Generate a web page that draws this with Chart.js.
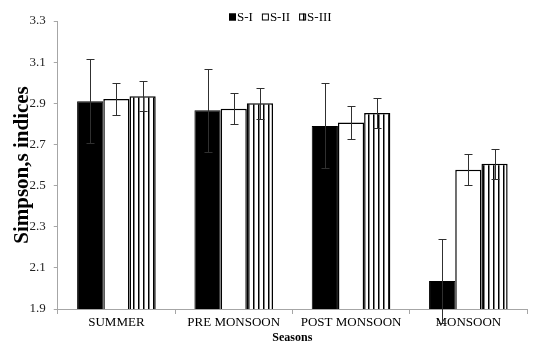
<!DOCTYPE html>
<html>
<head>
<meta charset="utf-8">
<script src="https://cdn.jsdelivr.net/npm/chart.js@4.4.1/dist/chart.umd.min.js"></script>
<style>
  html, body { margin: 0; padding: 0; background: #fff; }
  #wrap { width: 535px; height: 345px; }
</style>
</head>
<body>
<div id="wrap"><canvas id="chart"></canvas></div>
<script>
// data
const seasons = ['SUMMER', 'PRE MONSOON', 'POST MONSOON', 'MONSOON'];
const siteNames = ['S-I', 'S-II', 'S-III'];
const s1 = [2.91, 2.866, 2.79, 2.036];
const s2 = [2.921, 2.874, 2.806, 2.577];
const s3 = [2.934, 2.90, 2.853, 2.606];
const s1Err = [0.203, 0.201, 0.207, 0.206];
const s2Err = [0.076, 0.075, 0.079, 0.076];
const s3Err = [0.073, 0.074, 0.073, 0.073];

const FONT = '"Liberation Serif", "Times New Roman", serif';

// vertical stripes for S-III
const makeStripes = () => {
    const c = document.createElement('canvas');
    c.width = 5; c.height = 5;
    const ctx = c.getContext('2d');
    ctx.fillStyle = '#fff';
    ctx.fillRect(0, 0, 5, 5);
    ctx.fillStyle = '#000';
    ctx.fillRect(3, 0, 1.5, 5);
    return ctx.createPattern(c, 'repeat');
};

// error bars drawn through the y scale
const errorBars = {
    id: 'errorBars',
    afterDatasetsDraw(chart) {
        const ctx = chart.ctx;
        const y = chart.scales.y;
        ctx.save();
        ctx.strokeStyle = '#303030';
        ctx.lineWidth = 1;
        chart.data.datasets.forEach((ds, i) => {
            const meta = chart.getDatasetMeta(i);
            meta.data.forEach((bar, j) => {
                const v = ds.data[j];
                const e = ds.errors[j];
                const top = Math.round(y.getPixelForValue(v + e)) + 0.5;
                const bot = Math.round(y.getPixelForValue(v - e)) + 0.5;
                const x = Math.round(bar.x) + 0.5;
                ctx.beginPath();
                ctx.moveTo(x, top); ctx.lineTo(x, bot);
                ctx.moveTo(x - 4, top); ctx.lineTo(x + 4, top);
                ctx.moveTo(x - 4, bot); ctx.lineTo(x + 4, bot);
                ctx.stroke();
            });
        });
        ctx.restore();
    }
};

// small legend sitting inside the top of the plot, like the original
const topLegend = {
    id: 'topLegend',
    afterDraw(chart) {
        const ctx = chart.ctx;
        const area = chart.chartArea;
        const box = 7, gap = 1, spacing = 9;
        ctx.save();
        ctx.font = '13px ' + FONT;
        ctx.textBaseline = 'middle';
        const widths = chart.data.datasets.map(ds => box + gap + ctx.measureText(ds.label).width);
        const total = widths.reduce((a, b) => a + b, 0) + spacing * (widths.length - 1);
        let x = Math.round((area.left + area.right) / 2 - 12 - total / 2);
        const yc = area.top - 4;
        chart.data.datasets.forEach((ds, i) => {
            ctx.fillStyle = ds.backgroundColor;
            ctx.fillRect(x, yc - box / 2, box, box);
            ctx.strokeStyle = '#000';
            ctx.lineWidth = 1;
            ctx.strokeRect(x + 0.5, yc - box / 2 + 0.5, box - 1, box - 1);
            ctx.fillStyle = '#000';
            ctx.fillText(ds.label, x + box + gap, yc + 1);
            x += widths[i] + spacing;
        });
        ctx.restore();
    }
};

Chart.defaults.font.family = FONT;
Chart.defaults.color = '#1a1a1a';

new Chart(document.getElementById('chart'), {
    type: 'bar',
    data: {
        labels: seasons,
        datasets: [
            { label: siteNames[0], data: s1, errors: s1Err, backgroundColor: '#000', borderColor: '#000', borderWidth: 1 },
            { label: siteNames[1], data: s2, errors: s2Err, backgroundColor: '#fff', borderColor: '#000', borderWidth: 1.5 },
            { label: siteNames[2], data: s3, errors: s3Err, backgroundColor: makeStripes(), borderColor: '#000', borderWidth: 1.5 }
        ]
    },
    options: {
        responsive: true,
        maintainAspectRatio: false,
        animation: false,
        categoryPercentage: 0.67,
        barPercentage: 1,
        layout: { padding: { top: 21, right: 8, left: 0, bottom: 0 } },
        plugins: {
            legend: { display: false },
            tooltip: { enabled: false }
        },
        scales: {
            x: {
                grid: { drawOnChartArea: false, offset: true, tickLength: 5, color: '#a6a6a6' },
                border: { color: '#a6a6a6' },
                ticks: { font: { size: 13 }, color: '#000', padding: 1 },
                title: { display: true, text: 'Seasons', font: { size: 12, weight: 'bold' }, color: '#000', padding: { top: -1, bottom: 0 } }
            },
            y: {
                min: 1.9, max: 3.3,
                grid: { drawOnChartArea: false, tickLength: 4, color: '#a6a6a6' },
                border: { color: '#a6a6a6' },
                ticks: { stepSize: 0.2, font: { size: 13 }, color: '#222', padding: 8, callback: v => v.toFixed(1) },
                title: { display: true, text: 'Simpson,s indices', font: { size: 21, weight: 'bold', lineHeight: 1 }, color: '#000', padding: { top: 12, bottom: -11.5 } }
            }
        }
    },
    plugins: [errorBars, topLegend]
});
</script>
</body>
</html>
